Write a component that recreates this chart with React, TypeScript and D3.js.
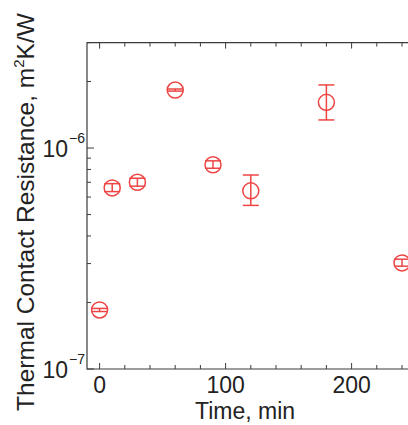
import React from "react";
import * as d3 from "d3";

const times = [0, 10, 30, 60, 90, 120, 180, 240];
const values = [1.85e-7, 6.6e-7, 7.0e-7, 1.83e-6, 8.4e-7, 6.4e-7, 1.61e-6, 3.02e-7];
const errLow = [1.82e-7, 6.35e-7, 6.72e-7, 1.81e-6, 8.1e-7, 5.5e-7, 1.34e-6, 2.92e-7];
const errHigh = [1.88e-7, 6.9e-7, 7.3e-7, 1.85e-6, 8.75e-7, 7.55e-7, 1.93e-6, 3.14e-7];
const xMajorTicks = [0, 100, 200];
const yMajorTicks = [1e-7, 1e-6];
const yMajorExp = ["-7", "-6"];

const W = 408;
const H = 425;
const left = 87;
const top = 42.6;
const bottom = 369;
const pxPerMin = 1.26;
const red = "#ee4444";
const axisColor = "#3a3a3a";

export default function App() {
  const x = d3.scaleLinear().domain([-10, 300]).range([left, left + 310 * pxPerMin]);
  const y = d3.scaleLog().domain([1e-7, 3e-6]).range([bottom, top]);
  const right = x(300);
  const xMinor = d3.range(0, 301, 20);
  const yMinor: number[] = [];
  for (let e = -7; e <= -6; e++) {
    for (let m = 2; m <= 9; m++) {
      const v = m * Math.pow(10, e);
      if (v <= 3e-6) yMinor.push(v);
    }
  }
  const font = "Liberation Sans, Arial, sans-serif";
  return (
    <svg width={W} height={H} style={{ position: "absolute", left: 0, top: 0, background: "#fff" }}>
      <path
        d={`M${right},${top} H${left} V${bottom} H${right}`}
        fill="none"
        stroke={axisColor}
        strokeWidth={1.2}
      />
      {xMinor.map((t) => {
        const major = xMajorTicks.includes(t);
        const len = major ? 6 : 4;
        return (
          <g key={"xt" + t} stroke={axisColor} strokeWidth={1}>
            <line x1={x(t)} x2={x(t)} y1={bottom} y2={bottom - len} />
            <line x1={x(t)} x2={x(t)} y1={top} y2={top + len} />
          </g>
        );
      })}
      {yMinor.map((v) => (
        <line key={"ym" + v} x1={left} x2={left + 4} y1={y(v)} y2={y(v)} stroke={axisColor} strokeWidth={1} />
      ))}
      {yMajorTicks.map((v) => (
        <line key={"yM" + v} x1={left} x2={left + 7} y1={y(v)} y2={y(v)} stroke={axisColor} strokeWidth={1} />
      ))}
      {xMajorTicks.map((t) => (
        <text key={"xl" + t} x={x(t)} y={bottom + 24} textAnchor="middle" fontFamily={font} fontSize={23} fill="#222">
          {t}
        </text>
      ))}
      {yMajorTicks.map((v, i) => (
        <g key={"yl" + v}>
          <text x={left - 19} y={y(v) + 9} textAnchor="end" fontFamily={font} fontSize={23} fill="#222">
            10
          </text>
          <text x={left - 18} y={y(v) - 5} textAnchor="start" fontFamily={font} fontSize={14} fill="#222">
            {"\u2212" + yMajorExp[i].slice(1)}
          </text>
        </g>
      ))}
      <text x={245} y={419} textAnchor="middle" fontFamily={font} fontSize={23} fill="#222">
        Time, min
      </text>
      <text
        transform={`translate(34,${212}) rotate(-90)`}
        textAnchor="middle"
        fontFamily={font}
        fontSize={24.5}
        fill="#222"
      >
        Thermal Contact Resistance, m
        <tspan fontSize={15} dy={-10}>2</tspan>
        <tspan dy={10}>K/W</tspan>
      </text>
      {times.map((t, i) => {
        const cx = x(t);
        const cy = y(values[i]);
        const yl = y(errLow[i]);
        const yh = y(errHigh[i]);
        const cap = 8;
        return (
          <g key={"pt" + t} stroke={red} strokeWidth={1.5} fill="none">
            <line x1={cx} x2={cx} y1={yh} y2={yl} />
            <line x1={cx - cap} x2={cx + cap} y1={yh} y2={yh} />
            <line x1={cx - cap} x2={cx + cap} y1={yl} y2={yl} />
            <circle cx={cx} cy={cy} r={8} />
          </g>
        );
      })}
    </svg>
  );
}
